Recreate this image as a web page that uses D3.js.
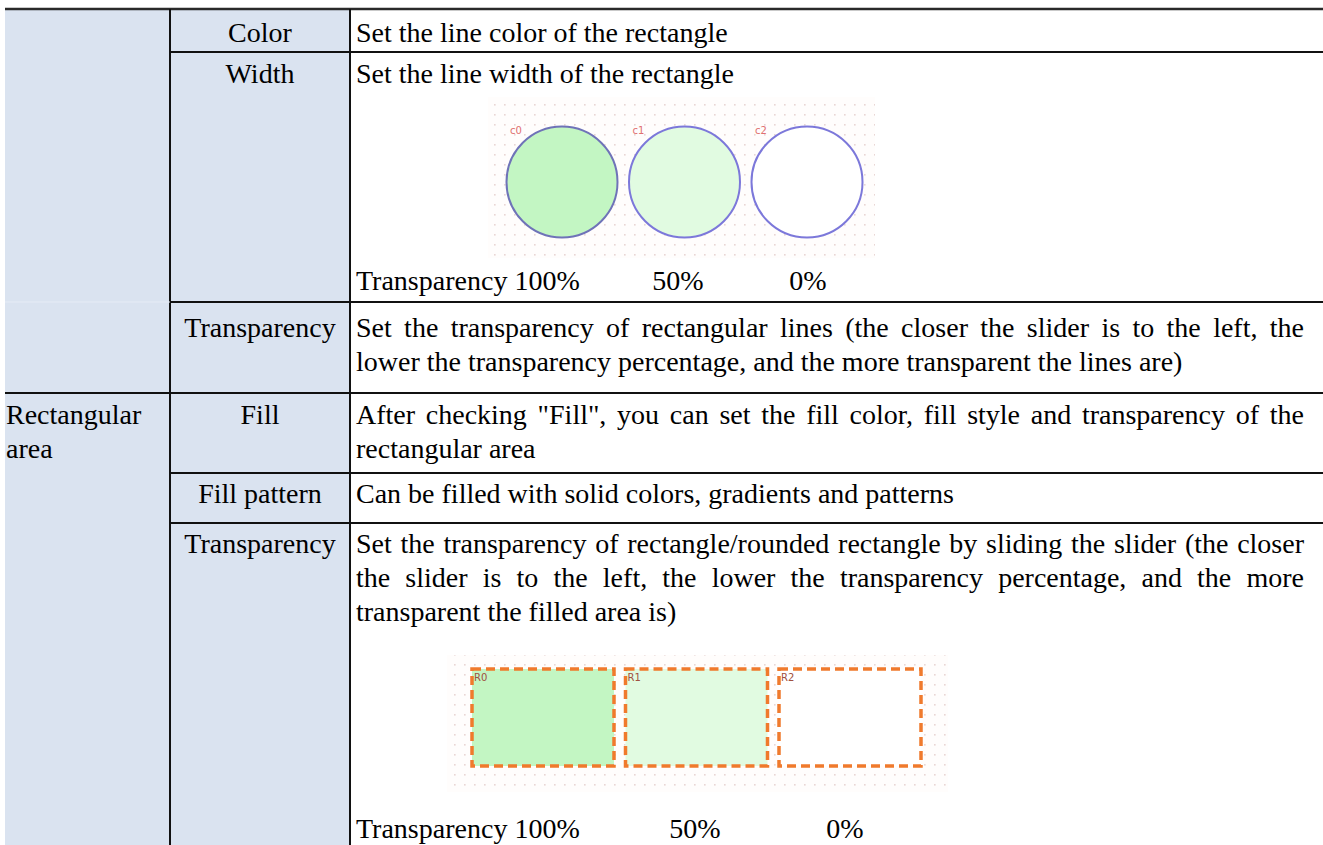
<!DOCTYPE html>
<html><head><meta charset="utf-8">
<script src="https://cdn.jsdelivr.net/npm/d3@7/dist/d3.min.js"></script>
<style>html,body{margin:0;padding:0;background:#fff;overflow:hidden}</style>
</head><body>
<svg id="chart" width="1323" height="845"></svg>
<script>
// ---------- data ----------
const groupLabels = [[], ["Rectangular", "area"]];
const itemLabels = ["Color", "Width", "Transparency", "Fill", "Fill pattern", "Transparency"];
const descriptions = [
  ["Set the line color of the rectangle"],
  ["Set the line width of the rectangle"],
  ["Set the transparency of rectangular lines (the closer the slider is to the left, the",
   "lower the transparency percentage, and the more transparent the lines are)"],
  ["After checking \"Fill\", you can set the fill color, fill style and transparency of the",
   "rectangular area"],
  ["Can be filled with solid colors, gradients and patterns"],
  ["Set the transparency of rectangle/rounded rectangle by sliding the slider (the closer",
   "the slider is to the left, the lower the transparency percentage, and the more",
   "transparent the filled area is)"]
];
const transparencyLevels = [100, 50, 0];
const transparencyLabels = ["100%", "50%", "0%"];
const circleIds = ["c0", "c1", "c2"];
const rectIds = ["R0", "R1", "R2"];
const captionWord = "Transparency";

// ---------- layout ----------
const W = 1323, H = 845;
const svg = d3.select("#chart");
const FONT = "'Liberation Serif','Times New Roman',serif";
const FS = 28;
const colX = [5, 170, 350, W + 5];
const rowTop = [9, 52, 302, 393, 473, 523, H + 5];
const textL = 356, textR = 1304;
const bg = "#dae3f0";
const lineCol = "#111";

svg.append("rect").attr("x", colX[0]).attr("y", rowTop[0]).attr("width", colX[2] - colX[0]).attr("height", H).attr("fill", bg);

const meas = svg.append("text").attr("font-family", FONT).attr("font-size", FS).attr("visibility", "hidden");
function measure(s) { meas.text(s); return meas.node().getComputedTextLength(); }

const tg = svg.append("g").attr("font-family", FONT).attr("font-size", FS).attr("fill", "#000");
function line(text, x, y, anchor) {
  tg.append("text").attr("x", x).attr("y", y).attr("text-anchor", anchor || "start").text(text);
}
function justified(text, x, y, width) {
  const words = text.split(" ");
  const ws = words.map(measure);
  const gap = (width - d3.sum(ws)) / (words.length - 1);
  let cx = x;
  words.forEach((w, i) => { tg.append("text").attr("x", cx).attr("y", y).text(w); cx += ws[i] + gap; });
}
function paragraph(lines, y0, pitch) {
  lines.forEach((l, i) => {
    const y = y0 + i * pitch;
    if (i < lines.length - 1) justified(l, textL, y, textR - textL); else line(l, textL, y);
  });
}

const pitch = 34;
const firstBase = [42, 83, 337, 424, 503, 553];
const col2Center = (colX[1] + colX[2]) / 2;

itemLabels.forEach((lab, i) => line(lab, col2Center, firstBase[i], "middle"));
groupLabels[1].forEach((lab, i) => line(lab, colX[0] + 1, firstBase[3] + i * pitch));
descriptions.forEach((d, i) => paragraph(d, firstBase[i], pitch));

// ---------- dotted-grid background pattern ----------
const defs = svg.append("defs");
const pat = defs.append("pattern").attr("id", "dots").attr("width", 10).attr("height", 10).attr("patternUnits", "userSpaceOnUse");
pat.append("rect").attr("width", 10).attr("height", 10).attr("fill", "#fffdfc");
pat.append("rect").attr("x", 4).attr("y", 4).attr("width", 1.6).attr("height", 1.6).attr("fill", "#e8d6d4");

const fillScale = d3.scaleLinear().domain([0, 100]).range(["#ffffff", "#c3f6c3"]).interpolate(d3.interpolateRgb);

// ---------- circle image (Width row) ----------
const cImg = {x: 488, y: 97, w: 387, h: 161};
svg.append("rect").attr("x", cImg.x).attr("y", cImg.y).attr("width", cImg.w).attr("height", cImg.h).attr("fill", "url(#dots)");
const cx = d3.scalePoint().domain(transparencyLevels).range([562, 807]);
const cy = 182, cr = 55.5;
const cg = svg.append("g");
cg.selectAll("circle").data(transparencyLevels).join("circle")
  .attr("cx", d => cx(d)).attr("cy", cy).attr("r", cr)
  .attr("fill", d => fillScale(d))
  .attr("stroke", (d, i) => i === 0 ? "#6f73b8" : "#7c78da").attr("stroke-width", 2);
cg.selectAll("text").data(transparencyLevels).join("text")
  .attr("x", d => cx(d) - 52).attr("y", 134)
  .attr("font-family", "'DejaVu Sans',sans-serif").attr("font-size", 10).attr("fill", "#e07070")
  .text((d, i) => circleIds[i]);

line(captionWord + " " + transparencyLabels[0], textL, 290);
const cLab = d3.scalePoint().domain(transparencyLevels).range([548, 808]);
transparencyLevels.slice(1).forEach((lv, i) => line(transparencyLabels[i + 1], cLab(lv), 290, "middle"));

// ---------- rectangle image (last Transparency row) ----------
const rImg = {x: 447, y: 655, w: 501, h: 137};
svg.append("rect").attr("x", rImg.x).attr("y", rImg.y).attr("width", rImg.w).attr("height", rImg.h).attr("fill", "url(#dots)");
const rx = d3.scalePoint().domain(transparencyLevels).range([472, 779]);
const rw = 142, ry = 669, rh = 97;
const rg = svg.append("g");
rg.selectAll("rect").data(transparencyLevels).join("rect")
  .attr("x", d => rx(d)).attr("y", ry).attr("width", rw).attr("height", rh)
  .attr("fill", d => fillScale(d))
  .attr("stroke", "#f07a2c").attr("stroke-width", 3.5).attr("stroke-dasharray", "9,5");
rg.selectAll("text").data(transparencyLevels).join("text")
  .attr("x", d => rx(d) + 2).attr("y", ry + 12)
  .attr("font-family", "'DejaVu Sans',sans-serif").attr("font-size", 10).attr("fill", "#a05040")
  .text((d, i) => rectIds[i]);

line(captionWord + " " + transparencyLabels[0], textL, 838);
const rLab = d3.scalePoint().domain(transparencyLevels).range([545, 845]);
transparencyLevels.slice(1).forEach((lv, i) => line(transparencyLabels[i + 1], rLab(lv), 838, "middle"));

// ---------- grid lines ----------
const lg = svg.append("g").attr("stroke", lineCol).attr("stroke-width", 2);
lg.append("line").attr("x1", colX[0]).attr("x2", W).attr("y1", rowTop[0]).attr("y2", rowTop[0]).attr("stroke", "#2a2a2a").attr("stroke-width", 2.5);
[1, 2, 4, 5].forEach(r => lg.append("line").attr("x1", colX[1]).attr("x2", W).attr("y1", rowTop[r]).attr("y2", rowTop[r]));
lg.append("line").attr("x1", colX[0]).attr("x2", W).attr("y1", rowTop[3]).attr("y2", rowTop[3]);
svg.append("line").attr("x1", colX[0]).attr("x2", colX[1]).attr("y1", rowTop[2]).attr("y2", rowTop[2]).attr("stroke", "#e6ecf6").attr("stroke-width", 1);
[1, 2].forEach(c => lg.append("line").attr("x1", colX[c]).attr("x2", colX[c]).attr("y1", rowTop[0]).attr("y2", H));
</script>
</body></html>
